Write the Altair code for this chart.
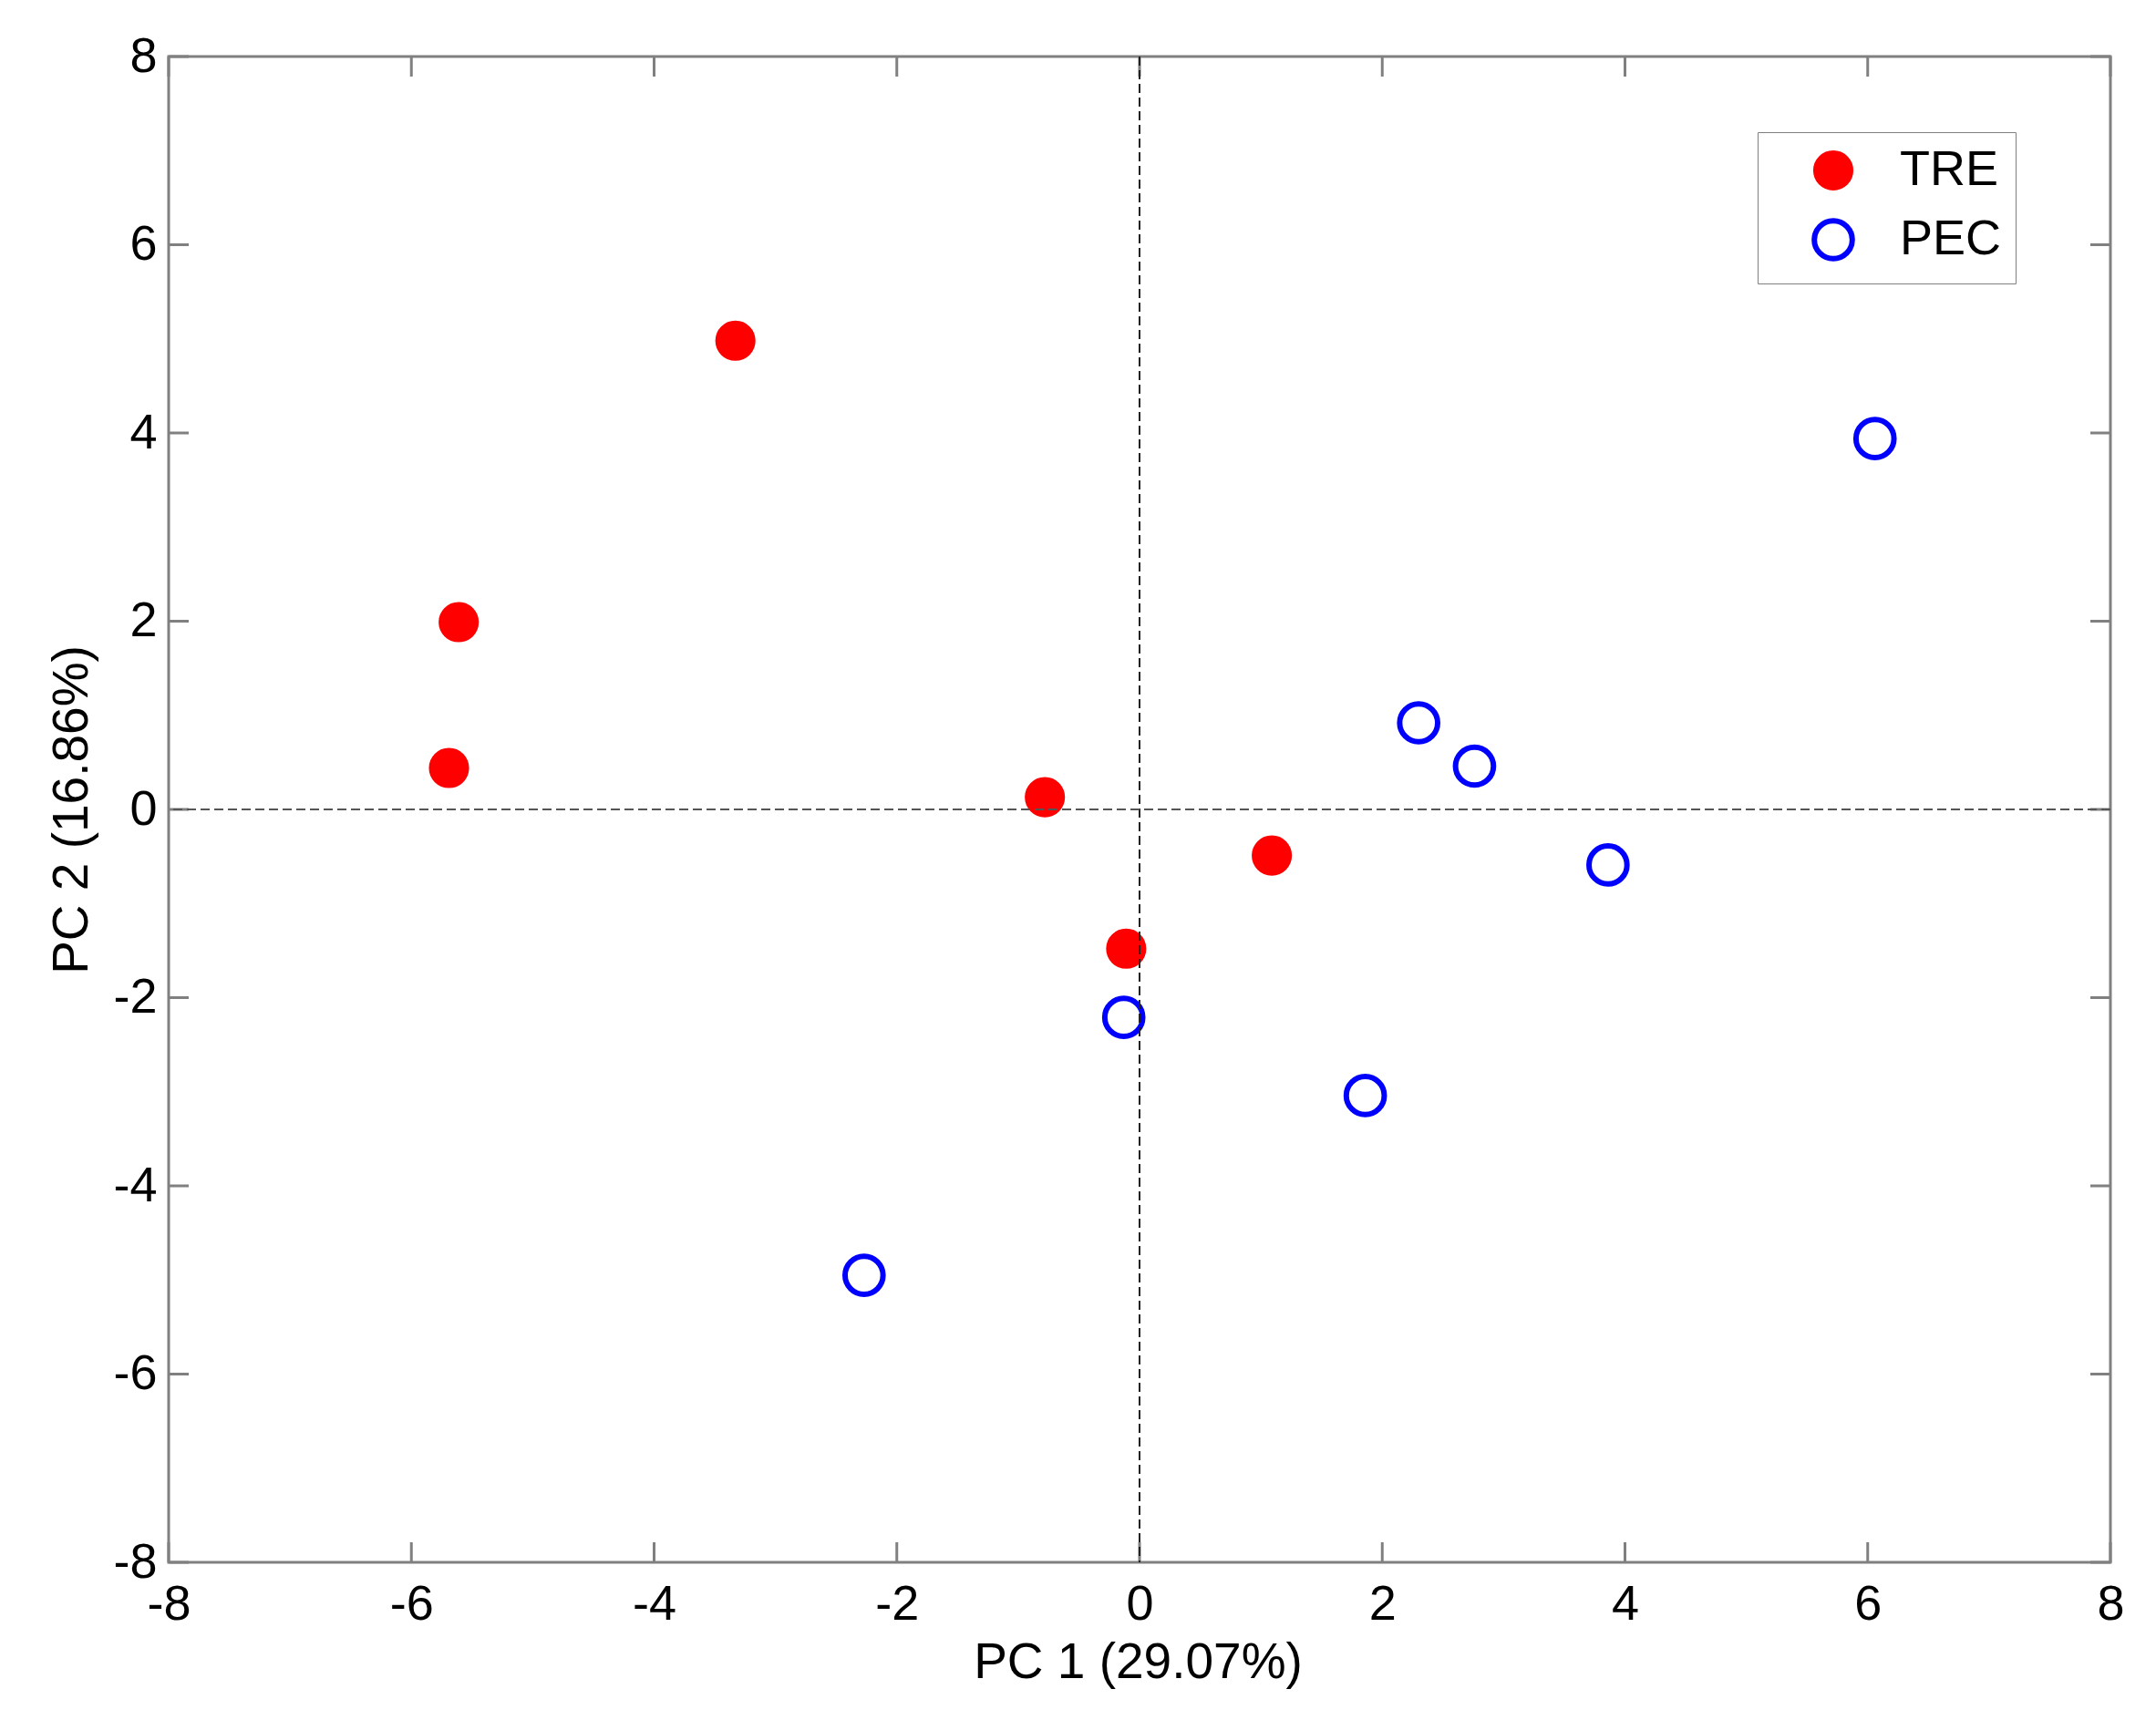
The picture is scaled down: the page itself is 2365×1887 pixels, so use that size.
import altair as alt
import pandas as pd

# ---- data ----
groups = ["TRE", "PEC"]
tre_pc1 = [-3.33, -5.61, -5.69, -0.78, 1.09, -0.11]
tre_pc2 = [4.98, 1.99, 0.44, 0.13, -0.49, -1.48]
pec_pc1 = [6.06, 2.30, 2.76, 3.86, -0.13, 1.86, -2.27]
pec_pc2 = [3.94, 0.92, 0.46, -0.59, -2.21, -3.04, -4.95]
tick_values = [-8, -6, -4, -2, 0, 2, 4, 6, 8]
x_title = "PC 1 (29.07%)"
y_title = "PC 2 (16.86%)"

W, H = 2130, 1652
FONT = "Liberation Sans"
TICK_LEN = 22
FRAME = "#808080"

df = pd.DataFrame(
    {
        "pc1": tre_pc1 + pec_pc1,
        "pc2": tre_pc2 + pec_pc2,
        "group": ["TRE"] * len(tre_pc1) + ["PEC"] * len(pec_pc1),
    }
)
ticks_df = pd.DataFrame({"v": tick_values})

xs = alt.Scale(domain=[-8, 8], nice=False, zero=False)
ys = alt.Scale(domain=[-8, 8], nice=False, zero=False)

x_axis = alt.Axis(
    values=tick_values, title=x_title, grid=False, domain=False, ticks=False, tickSize=0,
    labelFontSize=54, labelFont=FONT, labelColor="black", labelPadding=19,
    labelExpr="'' + datum.value", labelOverlap=False, labelFlush=False, labelBound=False,
    titleFont=FONT, titleFontSize=55, titleFontWeight="normal", titleColor="black",
    titleX=W / 2 - 2, titleY=126, titleBaseline="alphabetic", titleAlign="center",
)
y_axis = alt.Axis(
    values=tick_values, title=y_title, grid=False, domain=False, ticks=False, tickSize=0,
    labelFontSize=54, labelFont=FONT, labelColor="black", labelPadding=13,
    labelExpr="'' + datum.value", labelOverlap=False, labelFlush=False, labelBound=False,
    titleFont=FONT, titleFontSize=55, titleFontWeight="normal", titleColor="black",
    titleX=-90, titleY=H / 2, titleBaseline="alphabetic", titleAlign="center", titleAngle=-90,
)

legend = alt.Legend(
    title=None, orient="none", legendX=1743, legendY=83,
    strokeColor=FRAME, fillColor="white", padding=15,
    labelFont=FONT, labelFontSize=54, labelColor="black", labelOffset=46,
    labelExpr="datum.label + '\u00a0'",
    symbolOffset=41, rowPadding=11, symbolStrokeWidth=6, symbolType="circle",
)

points = alt.Chart(df).mark_point(filled=False, strokeWidth=6, opacity=1, shape="circle").encode(
    x=alt.X("pc1:Q", scale=xs, axis=x_axis),
    y=alt.Y("pc2:Q", scale=ys, axis=y_axis),
    color=alt.Color("group:N", scale=alt.Scale(domain=groups, range=["#FF0000", "#0000FF"]), legend=legend),
    fill=alt.Fill("group:N", scale=alt.Scale(domain=groups, range=["#FF0000", "transparent"]), legend=legend),
    size=alt.Size("group:N", scale=alt.Scale(domain=groups, range=[1452, 1735]), legend=legend),
)

base_t = alt.Chart(ticks_df)
tick_style = dict(color=FRAME, strokeWidth=3)
bottom_ticks = base_t.mark_rule(**tick_style).encode(
    x=alt.X("v:Q", scale=xs), y=alt.value(H), y2=alt.value(H - TICK_LEN))
top_ticks = base_t.mark_rule(**tick_style).encode(
    x=alt.X("v:Q", scale=xs), y=alt.value(0), y2=alt.value(TICK_LEN))
left_ticks = base_t.mark_rule(**tick_style).encode(
    y=alt.Y("v:Q", scale=ys), x=alt.value(0), x2=alt.value(TICK_LEN))
right_ticks = base_t.mark_rule(**tick_style).encode(
    y=alt.Y("v:Q", scale=ys), x=alt.value(W), x2=alt.value(W - TICK_LEN))

zero_v = alt.Chart(ticks_df).mark_rule(color="#222222", strokeWidth=2, strokeDash=[10, 5]).encode(
    x=alt.datum(0, scale=xs))
zero_h = alt.Chart(ticks_df).mark_rule(color="#555555", strokeWidth=2, strokeDash=[10, 5]).encode(
    y=alt.datum(0, scale=ys))

chart = (
    alt.layer(bottom_ticks, top_ticks, left_ticks, right_ticks, points, zero_v, zero_h)
    .properties(
        width=W, height=H,
        autosize=alt.AutoSizeParams(type="none"),
        padding={"left": 177, "top": 54, "right": 42, "bottom": 165},
        background="white",
    )
    .configure_view(stroke=FRAME, strokeWidth=3)
)

chart.save("out.html", embed_options={"renderer": "svg", "actions": False})
